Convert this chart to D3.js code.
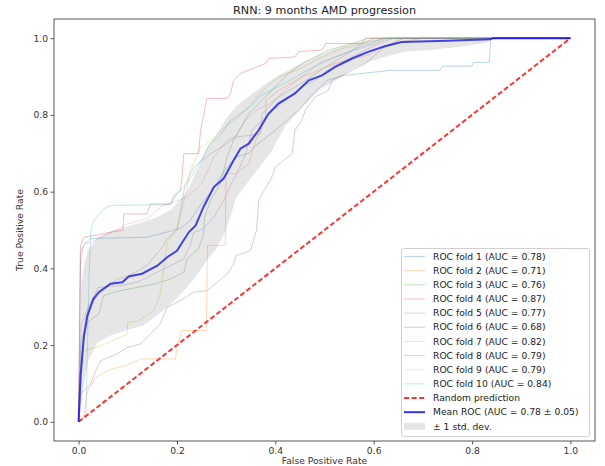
<!DOCTYPE html>
<html>
<head>
<meta charset="utf-8">
<script src="https://cdn.jsdelivr.net/npm/d3@7"></script>
<style>
  body { margin: 0; background: #fff; }
  svg { display: block; font-family: "DejaVu Sans", sans-serif; }
</style>
</head>
<body>
<svg id="chart" width="605" height="466"></svg>
<script>
// ---------- data ----------
const title = "RNN: 9 months AMD progression";
const xLabel = "False Positive Rate";
const yLabel = "True Positive Rate";
const tickValues = [0.0, 0.2, 0.4, 0.6, 0.8, 1.0];

const foldAUC = [0.78, 0.71, 0.76, 0.87, 0.77, 0.68, 0.82, 0.79, 0.79, 0.84];
const foldColors = ["#1f77b4", "#ff7f0e", "#2ca02c", "#d62728", "#9467bd",
                    "#8c564b", "#e377c2", "#7f7f7f", "#bcbd22", "#17becf"];

const fold1 = [[0,0],[0.004,0.42],[0.01,0.46],[0.024,0.478],[0.139,0.481],[0.207,0.504],[0.227,0.525],[0.25,0.57],[0.27,0.6],[0.3,0.66],[0.319,0.69],[0.346,0.7],[0.36,0.72],[0.4,0.76],[0.45,0.815],[0.471,0.847],[0.505,0.89],[0.539,0.903],[0.634,0.916],[0.735,0.916],[0.74,0.927],[0.8,0.927],[0.803,0.937],[0.835,0.937],[0.838,1],[1,1]];
const fold2 = [[0,0],[0.01,0.01],[0.018,0.08],[0.035,0.116],[0.065,0.137],[0.095,0.146],[0.126,0.164],[0.197,0.164],[0.2,0.194],[0.21,0.238],[0.26,0.238],[0.262,0.46],[0.298,0.46],[0.3,0.647],[0.319,0.647],[0.346,0.673],[0.36,0.734],[0.38,0.786],[0.381,0.838],[0.407,0.864],[0.454,0.899],[0.488,0.916],[0.522,0.934],[0.59,0.956],[0.617,0.978],[0.657,0.991],[0.7,1],[1,1]];
const fold3 = [[0,0],[0.008,0.2],[0.018,0.259],[0.041,0.281],[0.051,0.329],[0.072,0.338],[0.102,0.346],[0.153,0.359],[0.187,0.372],[0.214,0.39],[0.221,0.425],[0.244,0.451],[0.254,0.486],[0.256,0.533],[0.268,0.577],[0.288,0.62],[0.302,0.69],[0.315,0.734],[0.346,0.803],[0.373,0.838],[0.4,0.873],[0.427,0.908],[0.454,0.934],[0.508,0.969],[0.556,0.986],[0.59,1],[1,1]];
const fold4 = [[0,0],[0.004,0.46],[0.011,0.481],[0.065,0.494],[0.09,0.5],[0.092,0.542],[0.139,0.542],[0.146,0.568],[0.187,0.568],[0.194,0.59],[0.207,0.603],[0.21,0.634],[0.214,0.699],[0.244,0.699],[0.248,0.76],[0.254,0.795],[0.261,0.843],[0.302,0.843],[0.309,0.856],[0.315,0.89],[0.329,0.908],[0.38,0.934],[0.386,0.947],[0.44,0.951],[0.447,0.965],[0.495,0.969],[0.502,0.986],[0.576,0.986],[0.583,1],[1,1]];
const fold5 = [[0,0],[0.005,0.2],[0.02,0.3],[0.04,0.35],[0.085,0.355],[0.119,0.364],[0.16,0.39],[0.187,0.407],[0.214,0.425],[0.227,0.46],[0.234,0.494],[0.25,0.5],[0.275,0.533],[0.295,0.577],[0.31,0.62],[0.322,0.647],[0.34,0.7],[0.353,0.76],[0.38,0.795],[0.42,0.838],[0.454,0.873],[0.481,0.89],[0.515,0.925],[0.556,0.951],[0.603,0.982],[0.64,1],[1,1]];
const fold6 = [[0,0],[0.004,0.072],[0.024,0.098],[0.038,0.142],[0.045,0.159],[0.078,0.177],[0.099,0.194],[0.126,0.203],[0.166,0.255],[0.18,0.298],[0.207,0.316],[0.234,0.338],[0.261,0.342],[0.282,0.364],[0.302,0.385],[0.315,0.41],[0.32,0.433],[0.349,0.446],[0.362,0.5],[0.366,0.577],[0.393,0.638],[0.4,0.664],[0.434,0.699],[0.44,0.76],[0.454,0.786],[0.461,0.812],[0.481,0.847],[0.508,0.864],[0.515,0.89],[0.556,0.916],[0.583,0.934],[0.623,0.978],[0.66,1],[1,1]];
const fold7 = [[0,0],[0.003,0.44],[0.011,0.462],[0.03,0.47],[0.06,0.49],[0.099,0.516],[0.14,0.53],[0.166,0.56],[0.221,0.586],[0.25,0.62],[0.275,0.69],[0.302,0.734],[0.322,0.747],[0.339,0.786],[0.36,0.812],[0.39,0.83],[0.42,0.864],[0.454,0.899],[0.488,0.934],[0.52,0.95],[0.562,0.969],[0.603,0.986],[0.63,1],[1,1]];
const fold8 = [[0,0],[0.005,0.25],[0.02,0.3],[0.04,0.33],[0.078,0.372],[0.1,0.38],[0.139,0.407],[0.173,0.46],[0.18,0.477],[0.2,0.5],[0.217,0.62],[0.234,0.664],[0.27,0.7],[0.295,0.72],[0.319,0.742],[0.37,0.75],[0.373,0.803],[0.407,0.847],[0.45,0.88],[0.502,0.925],[0.542,0.956],[0.57,0.98],[0.6,1],[1,1]];
const fold9 = [[0,0],[0.01,0.185],[0.045,0.198],[0.099,0.229],[0.1,0.259],[0.119,0.262],[0.153,0.29],[0.166,0.333],[0.173,0.399],[0.18,0.468],[0.2,0.5],[0.21,0.55],[0.221,0.612],[0.227,0.655],[0.248,0.716],[0.261,0.725],[0.302,0.773],[0.33,0.8],[0.363,0.847],[0.38,0.87],[0.407,0.899],[0.45,0.92],[0.488,0.947],[0.535,0.973],[0.59,0.99],[0.63,1],[1,1]];
const fold10 = [[0,0],[0.015,0.02],[0.021,0.368],[0.025,0.5],[0.031,0.525],[0.051,0.555],[0.065,0.564],[0.187,0.566],[0.2,0.594],[0.22,0.62],[0.241,0.664],[0.268,0.725],[0.29,0.75],[0.309,0.786],[0.349,0.821],[0.37,0.85],[0.4,0.87],[0.43,0.89],[0.47,0.92],[0.52,0.95],[0.56,0.97],[0.6,0.99],[0.62,1],[1,1]];
const folds = [fold1, fold2, fold3, fold4, fold5, fold6, fold7, fold8, fold9, fold10];

const meanAUC = 0.78, stdAUC = 0.05;
const meanROC = [[0,0],[0.004,0.12],[0.011,0.225],[0.018,0.277],[0.03,0.32],[0.041,0.338],[0.065,0.36],[0.089,0.364],[0.102,0.379],[0.129,0.386],[0.16,0.407],[0.18,0.429],[0.2,0.446],[0.224,0.494],[0.238,0.512],[0.254,0.56],[0.275,0.612],[0.295,0.634],[0.315,0.681],[0.329,0.712],[0.346,0.725],[0.366,0.76],[0.386,0.803],[0.407,0.83],[0.44,0.856],[0.468,0.89],[0.495,0.903],[0.522,0.925],[0.556,0.947],[0.59,0.965],[0.623,0.979],[0.657,0.99],[0.75,0.993],[0.837,0.997],[0.843,1],[1,1]];

const stdX     = [0, 0.005, 0.011, 0.02, 0.038, 0.065, 0.1, 0.13, 0.16, 0.19, 0.22, 0.24, 0.26, 0.28, 0.3, 0.32, 0.35, 0.39, 0.42, 0.45, 0.49, 0.52, 0.56, 0.59, 0.62, 0.66, 0.72, 0.78, 0.83, 0.84, 1];
const stdUpper = [0, 0.35, 0.41, 0.45, 0.48, 0.497, 0.51, 0.52, 0.533, 0.555, 0.6, 0.653, 0.713, 0.748, 0.79, 0.822, 0.852, 0.89, 0.912, 0.932, 0.957, 0.972, 0.987, 0.996, 1, 1, 1, 1, 1, 1, 1];
const stdLower = [0, 0.03, 0.1, 0.16, 0.207, 0.225, 0.24, 0.25, 0.277, 0.31, 0.35, 0.381, 0.42, 0.45, 0.5, 0.583, 0.635, 0.7, 0.77, 0.815, 0.866, 0.888, 0.922, 0.938, 0.95, 0.964, 0.97, 0.978, 0.988, 1, 1];

// ---------- chart ----------
const frame = {left: 54, right: 595, top: 19, bottom: 441};
const svg = d3.select("#chart");

const x = d3.scaleLinear().domain([-0.05, 1.05]).range([frame.left, frame.right]);
const y = d3.scaleLinear().domain([-0.05, 1.05]).range([frame.bottom, frame.top]);

const line = d3.line().x(d => x(d[0])).y(d => y(d[1]));

const plot = svg.append("g");

// folds
folds.forEach((f, i) => {
  plot.append("path").attr("d", line(f))
    .attr("fill", "none").attr("stroke", foldColors[i])
    .attr("stroke-opacity", 0.3).attr("stroke-width", 1);
});

// chance
plot.append("path").attr("d", line([[0,0],[1,1]]))
  .attr("fill", "none").attr("stroke", "red").attr("stroke-opacity", 0.8)
  .attr("stroke-width", 2).attr("stroke-dasharray", "5,2.6");

// mean
plot.append("path").attr("d", line(meanROC))
  .attr("fill", "none").attr("stroke", "blue").attr("stroke-opacity", 0.8)
  .attr("stroke-width", 2);

// std band
const area = d3.area().x((d, i) => x(stdX[i])).y0((d, i) => y(stdLower[i])).y1((d, i) => y(stdUpper[i]));
plot.append("path").attr("d", area(stdX))
  .attr("fill", "grey").attr("fill-opacity", 0.2).attr("stroke", "none");

// frame
svg.append("rect").attr("x", frame.left).attr("y", frame.top)
  .attr("width", frame.right - frame.left).attr("height", frame.bottom - frame.top)
  .attr("fill", "none").attr("stroke", "#444").attr("stroke-width", 0.9);

// axes
const xAxis = d3.axisBottom(x).tickValues(tickValues).tickFormat(d3.format(".1f")).tickSize(3.5).tickPadding(2.5);
const yAxis = d3.axisLeft(y).tickValues(tickValues).tickFormat(d3.format(".1f")).tickSize(3.5).tickPadding(2.5);
const gx = svg.append("g").attr("transform", `translate(0,${frame.bottom})`).call(xAxis);
const gy = svg.append("g").attr("transform", `translate(${frame.left},0)`).call(yAxis);
[gx, gy].forEach(g => {
  g.select(".domain").remove();
  g.selectAll("line").attr("stroke", "#444").attr("stroke-width", 0.9);
  g.selectAll("text").attr("fill", "#333").style("font-size", "9.2px").style("font-family", "DejaVu Sans");
});

// title & labels
svg.append("text").attr("x", (frame.left + frame.right) / 2).attr("y", 14)
  .attr("text-anchor", "middle").style("font-size", "11.2px").attr("fill", "#222").text(title);
svg.append("text").attr("x", (frame.left + frame.right) / 2).attr("y", 464)
  .attr("text-anchor", "middle").style("font-size", "9.2px").attr("fill", "#333").text(xLabel);
svg.append("text").attr("transform", `translate(23,${(frame.top + frame.bottom) / 2}) rotate(-90)`)
  .attr("text-anchor", "middle").style("font-size", "9.2px").attr("fill", "#333").text(yLabel);

// legend
const legendItems = foldAUC.map((a, i) => ({type: "fold", color: foldColors[i], label: `ROC fold ${i + 1} (AUC = ${a.toFixed(2)})`}));
legendItems.push({type: "chance", label: "Random prediction"});
legendItems.push({type: "mean", label: `Mean ROC (AUC = ${meanAUC.toFixed(2)} \u00b1 ${stdAUC.toFixed(2)})`});
legendItems.push({type: "std", label: "\u00b1 1 std. dev."});

const lg = svg.append("g");
lg.append("rect").attr("x", 401.5).attr("y", 248.5).attr("width", 188).attr("height", 188)
  .attr("rx", 2.5).attr("fill", "white").attr("fill-opacity", 0.8)
  .attr("stroke", "#d0d0d0").attr("stroke-width", 1);
const rowY = i => 256.5 + i * 14.15;
legendItems.forEach((it, i) => {
  const cy = rowY(i);
  if (it.type === "fold") {
    lg.append("line").attr("x1", 404).attr("x2", 425).attr("y1", cy).attr("y2", cy)
      .attr("stroke", it.color).attr("stroke-opacity", 0.3).attr("stroke-width", 1);
  } else if (it.type === "chance") {
    lg.append("line").attr("x1", 404).attr("x2", 425).attr("y1", cy).attr("y2", cy)
      .attr("stroke", "red").attr("stroke-opacity", 0.8).attr("stroke-width", 2).attr("stroke-dasharray", "5,2.6");
  } else if (it.type === "mean") {
    lg.append("line").attr("x1", 404).attr("x2", 425).attr("y1", cy).attr("y2", cy)
      .attr("stroke", "blue").attr("stroke-opacity", 0.8).attr("stroke-width", 2);
  } else {
    lg.append("rect").attr("x", 404).attr("y", cy - 3.5).attr("width", 21).attr("height", 7)
      .attr("fill", "grey").attr("fill-opacity", 0.2);
  }
  lg.append("text").attr("x", 433).attr("y", cy).attr("dy", "0.35em")
    .style("font-size", "9.2px").attr("fill", "#222").text(it.label);
});
</script>
</body>
</html>
